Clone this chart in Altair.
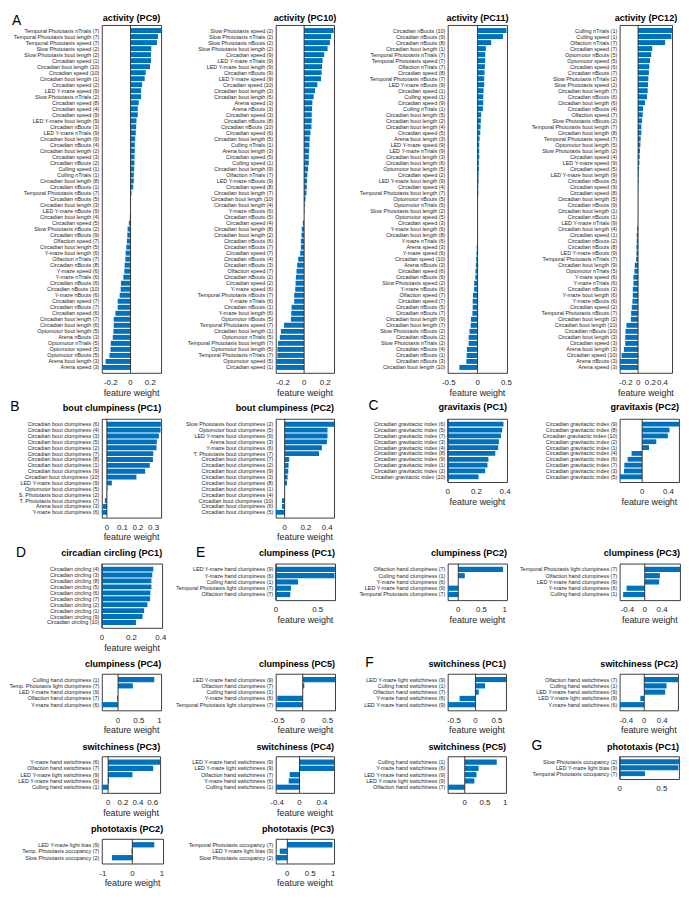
import altair as alt
import pandas as pd

FONT = "Liberation Sans"
BAR_COLOR = "#0072BD"
INK = "#262626"

# ---------------- activity (PC9) ----------------
PC9_LABELS = [
    "Temporal Phototaxis nTrials (7)", "Temporal Phototaxis bout length (7)", "Temporal Phototaxis speed (7)",
    "Slow Phototaxis speed (2)", "Slow Phototaxis bout length (2)", "Circadian speed (1)",
    "Circadian bout length (10)", "Circadian speed (10)", "Circadian bout length (1)", "Circadian speed (2)",
    "LED Y-maze speed (9)", "Slow Phototaxis nTrials (2)", "Circadian speed (8)", "Circadian speed (4)",
    "Circadian speed (9)", "LED Y-maze bout length (9)", "Circadian nBouts (3)", "LED Y-maze nTrials (9)",
    "Circadian bout length (9)", "Circadian nBouts (4)", "Circadian bout length (2)", "Circadian speed (3)",
    "Circadian nBouts (2)", "Culling speed (1)", "Culling nTrials (1)", "Circadian bout length (8)",
    "Circadian nBouts (1)", "Temporal Phototaxis nBouts (7)", "Circadian nBouts (5)", "Circadian bout length (3)",
    "LED Y-maze nBouts (9)", "Circadian bout length (4)", "Circadian speed (5)", "Slow Phototaxis nBouts (2)",
    "Circadian nBouts (9)", "Olfaction speed (7)", "Circadian bout length (5)", "Y-maze bout length (6)",
    "Olfaction nTrials (7)", "Circadian nBouts (8)", "Y-maze speed (6)", "Y-maze nTrials (6)",
    "Circadian nBouts (6)", "Circadian nBouts (10)", "Y-maze nBouts (6)", "Circadian speed (7)",
    "Circadian nBouts (7)", "Circadian speed (6)", "Circadian bout length (7)", "Circadian bout length (6)",
    "Optomotor bout length (5)", "Arena nBouts (3)", "Optomotor nTrials (5)", "Optomotor speed (5)",
    "Optomotor nBouts (5)", "Arena bout length (3)", "Arena speed (3)",
]
PC9_VALUES = [
    0.31, 0.277, 0.267, 0.21, 0.207, 0.207, 0.197, 0.153, 0.143, 0.117,
    0.107, 0.107, 0.083, 0.073, 0.073, 0.06, 0.057, 0.053, 0.047, 0.043,
    0.043, 0.04, 0.04, 0.037, 0.033, 0.033, 0.027, 0.01, 0.004, 0.002,
    -0.001, -0.007, -0.017, -0.03, -0.033, -0.037, -0.043, -0.05, -0.053, -0.06,
    -0.063, -0.073, -0.097, -0.1, -0.11, -0.13, -0.13, -0.153, -0.17, -0.17,
    -0.173, -0.18, -0.2, -0.203, -0.213, -0.253, -0.287,
]

# ---------------- activity (PC10) ----------------
PC10_LABELS = [
    "Slow Phototaxis speed (2)", "Slow Phototaxis nTrials (2)", "Slow Phototaxis nBouts (2)",
    "Slow Phototaxis bout length (2)", "Circadian speed (9)", "LED Y-maze nTrials (9)",
    "LED Y-maze bout length (9)", "Circadian nBouts (9)", "LED Y-maze speed (9)", "Circadian speed (10)",
    "Circadian bout length (3)", "Circadian bout length (6)", "Arena speed (3)", "Arena nBouts (3)",
    "Circadian speed (3)", "Circadian nBouts (8)", "Circadian nBouts (10)", "Circadian speed (6)",
    "Circadian bout length (5)", "Culling nTrials (1)", "Arena bout length (3)", "Circadian speed (5)",
    "Culling speed (1)", "Circadian bout length (9)", "Olfaction nTrials (7)", "LED Y-maze nBouts (9)",
    "Circadian speed (8)", "Circadian bout length (7)", "Circadian bout length (10)", "Circadian bout length (4)",
    "Y-maze nBouts (6)", "Circadian nBouts (5)", "Circadian speed (4)", "Circadian bout length (8)",
    "Circadian bout length (2)", "Circadian nBouts (6)", "Circadian nBouts (7)", "Circadian speed (7)",
    "Circadian nBouts (4)", "Circadian nBouts (3)", "Olfaction speed (7)", "Circadian nBouts (2)",
    "Circadian speed (2)", "Y-maze speed (6)", "Temporal Phototaxis nBouts (7)", "Y-maze nTrials (6)",
    "Circadian nBouts (1)", "Y-maze bout length (6)", "Optomotor nBouts (5)", "Temporal Phototaxis speed (7)",
    "Circadian bout length (1)", "Optomotor nTrials (5)", "Temporal Phototaxis bout length (7)",
    "Optomotor bout length (5)", "Temporal Phototaxis nTrials (7)", "Optomotor speed (5)", "Circadian speed (1)",
]
PC10_VALUES = [
    0.28, 0.256, 0.244, 0.222, 0.19, 0.175, 0.169, 0.166, 0.16, 0.125,
    0.103, 0.09, 0.078, 0.075, 0.072, 0.072, 0.069, 0.06, 0.053, 0.05,
    0.047, 0.044, 0.044, 0.038, 0.031, 0.028, 0.025, 0.022, 0.013, 0.006,
    0.004, 0.001, -0.012, -0.022, -0.025, -0.031, -0.031, -0.037, -0.056, -0.066,
    -0.072, -0.078, -0.081, -0.084, -0.094, -0.094, -0.119, -0.122, -0.125, -0.19,
    -0.22, -0.23, -0.247, -0.253, -0.253, -0.266, -0.266,
]

# ---------------- activity (PC11) ----------------
PC11_LABELS = [
    "Circadian nBouts (10)", "Circadian nBouts (9)", "Circadian nBouts (8)", "Circadian bout length (1)",
    "Temporal Phototaxis nTrials (7)", "Temporal Phototaxis speed (7)", "Olfaction nTrials (7)",
    "Circadian speed (8)", "Temporal Phototaxis nBouts (7)", "LED Y-maze nBouts (9)", "Circadian speed (1)",
    "Culling speed (1)", "Circadian speed (9)", "Culling nTrials (1)", "Circadian bout length (5)",
    "Circadian bout length (2)", "Circadian bout length (4)", "Circadian speed (5)", "Arena bout length (3)",
    "LED Y-maze speed (9)", "LED Y-maze nTrials (9)", "Circadian bout length (3)", "Circadian bout length (6)",
    "Optomotor bout length (5)", "Circadian speed (2)", "LED Y-maze bout length (9)", "Circadian speed (4)",
    "Temporal Phototaxis bout length (7)", "Optomotor nBouts (5)", "Optomotor nTrials (5)",
    "Slow Phototaxis bout length (2)", "Optomotor speed (5)", "Circadian speed (3)", "Y-maze bout length (6)",
    "Circadian bout length (8)", "Y-maze nTrials (6)", "Arena speed (3)", "Y-maze speed (6)",
    "Circadian speed (10)", "Arena nBouts (3)", "Circadian speed (6)", "Circadian nBouts (6)",
    "Slow Phototaxis speed (2)", "Y-maze nBouts (6)", "Olfaction speed (7)", "Circadian speed (7)",
    "Circadian nBouts (5)", "Circadian nBouts (7)", "Circadian bout length (9)", "Circadian bout length (7)",
    "Slow Phototaxis nBouts (2)", "Circadian nBouts (2)", "Slow Phototaxis nTrials (2)", "Circadian nBouts (4)",
    "Circadian nBouts (1)", "Circadian nBouts (3)", "Circadian bout length (10)",
]
PC11_VALUES = [
    0.50, 0.44, 0.236, 0.144, 0.132, 0.132, 0.126, 0.12, 0.115, 0.115,
    0.103, 0.098, 0.098, 0.092, 0.063, 0.057, 0.052, 0.046, 0.034, 0.029,
    0.029, 0.029, 0.023, 0.023, 0.017, 0.017, 0.012, 0.012, 0.006, 0.005,
    0.003, 0.002, 0.001, -0.002, -0.004, -0.008, -0.015, -0.02, -0.025, -0.03,
    -0.036, -0.04, -0.06, -0.06, -0.08, -0.085, -0.085, -0.09, -0.115, -0.12,
    -0.14, -0.155, -0.155, -0.185, -0.19, -0.195, -0.316,
]

# ---------------- activity (PC12) ----------------
PC12_LABELS = [
    "Culling nTrials (1)", "Culling speed (1)", "Olfaction nTrials (7)", "Circadian speed (7)",
    "Optomotor nBouts (5)", "Optomotor speed (5)", "Circadian speed (6)", "Circadian nBouts (7)",
    "Slow Phototaxis nTrials (2)", "Slow Phototaxis speed (2)", "Circadian bout length (7)",
    "Circadian nBouts (6)", "Circadian bout length (6)", "Circadian nBouts (4)", "Olfaction speed (7)",
    "Slow Phototaxis nBouts (2)", "Temporal Phototaxis bout length (7)", "Circadian bout length (8)",
    "Temporal Phototaxis speed (7)", "Optomotor bout length (5)", "Slow Phototaxis bout length (2)",
    "Circadian speed (4)", "LED Y-maze speed (9)", "Circadian speed (5)", "LED Y-maze bout length (9)",
    "Circadian nBouts (5)", "Circadian speed (9)", "Circadian speed (8)", "Circadian bout length (5)",
    "Circadian nBouts (9)", "Circadian bout length (1)", "Circadian nBouts (1)", "LED Y-maze nTrials (9)",
    "Circadian bout length (4)", "Circadian speed (1)", "Circadian nBouts (2)", "Circadian nBouts (8)",
    "LED Y-maze nBouts (9)", "Temporal Phototaxis nTrials (7)", "Circadian bout length (9)",
    "Optomotor nTrials (5)", "Y-maze speed (6)", "Y-maze nTrials (6)", "Circadian nBouts (3)",
    "Y-maze bout length (6)", "Y-maze nBouts (6)", "Circadian speed (2)", "Temporal Phototaxis nBouts (7)",
    "Circadian bout length (2)", "Circadian bout length (10)", "Circadian nBouts (10)",
    "Circadian bout length (3)", "Circadian speed (3)", "Arena bout length (3)", "Circadian speed (10)",
    "Arena nBouts (3)", "Arena speed (3)",
]
PC12_VALUES = [
    0.557, 0.546, 0.443, 0.232, 0.216, 0.195, 0.184, 0.178, 0.168, 0.162,
    0.157, 0.146, 0.114, 0.081, 0.076, 0.065, 0.054, 0.054, 0.043, 0.038,
    0.032, 0.027, 0.022, 0.016, 0.011, 0.009, 0.006, 0.004, 0.002, 0.001,
    -0.001, -0.002, -0.004, -0.016, -0.022, -0.022, -0.027, -0.027, -0.032, -0.054,
    -0.06, -0.076, -0.076, -0.086, -0.086, -0.092, -0.103, -0.114, -0.119, -0.19,
    -0.205, -0.21, -0.21, -0.232, -0.27, -0.297, -0.297,
]

# ---------------- bout clumpiness ----------------
BC1_LABELS = [
    "Circadian bout clumpiness (6)", "Circadian bout clumpiness (4)", "Circadian bout clumpiness (3)",
    "Circadian bout clumpiness (5)", "Circadian bout clumpiness (2)", "Circadian bout clumpiness (7)",
    "Circadian bout clumpiness (8)", "Circadian bout clumpiness (1)", "Circadian bout clumpiness (9)",
    "Circadian bout clumpiness (10)", "LED Y-maze bout clumpiness (9)", "Optomotor bout clumpiness (5)",
    "S. Phototaxis bout clumpiness (2)", "T. Phototaxis bout clumpiness (7)", "Arena bout clumpiness (3)",
    "Y-maze bout clumpiness (6)",
]
BC1_VALUES = [0.347, 0.345, 0.334, 0.321, 0.319, 0.298, 0.296, 0.276, 0.246, 0.19,
              0.032, 0.004, -0.002, -0.013, -0.026, -0.032]

BC2_LABELS = [
    "Slow Phototaxis bout clumpiness (2)", "Optomotor bout clumpiness (5)", "LED Y-maze bout clumpiness (9)",
    "Arena bout clumpiness (3)", "Y-maze bout clumpiness (6)", "T. Phototaxis bout clumpiness (7)",
    "Circadian bout clumpiness (7)", "Circadian bout clumpiness (2)", "Circadian bout clumpiness (9)",
    "Circadian bout clumpiness (3)", "Circadian bout clumpiness (8)", "Circadian bout clumpiness (1)",
    "Circadian bout clumpiness (4)", "Circadian bout clumpiness (10)", "Circadian bout clumpiness (6)",
    "Circadian bout clumpiness (5)",
]
BC2_VALUES = [0.465, 0.403, 0.403, 0.397, 0.35, 0.323, 0.043, 0.037, 0.034, 0.028,
              0.022, 0.002, -0.001, -0.025, -0.025, -0.083]

# ---------------- gravitaxis ----------------
GR1_LABELS = ["Circadian gravitactic index (%d)" % i for i in [6, 5, 7, 3, 4, 8, 9, 1, 2, 10]]
GR1_VALUES = [0.389, 0.380, 0.371, 0.357, 0.352, 0.332, 0.284, 0.277, 0.261, 0.215]

GR2_LABELS = ["Circadian gravitactic index (%d)" % i for i in [9, 8, 10, 2, 1, 4, 6, 7, 3, 5]]
GR2_VALUES = [0.56, 0.415, 0.39, 0.215, 0.105, -0.16, -0.22, -0.27, -0.275, -0.34]

# ---------------- circadian circling ----------------
CC1_LABELS = ["Circadian circling (%d)" % i for i in [4, 3, 8, 5, 6, 7, 2, 1, 9, 10]]
CC1_VALUES = [0.349, 0.342, 0.336, 0.336, 0.329, 0.327, 0.309, 0.287, 0.276, 0.231]

# ---------------- clumpiness ----------------
CL1_LABELS = ["LED Y-maze hand clumpiness (9)", "Y-maze hand clumpiness (6)", "Culling hand clumpiness (1)",
              "Temporal Phototaxis light clumpiness (7)", "Olfaction hand clumpiness (7)"]
CL1_VALUES = [0.707, 0.70, 0.266, 0.18, 0.172]

CL2_LABELS = ["Olfaction hand clumpiness (7)", "Culling hand clumpiness (1)", "Y-maze hand clumpiness (6)",
              "LED Y-maze hand clumpiness (9)", "Temporal Phototaxis clumpiness (7)"]
CL2_VALUES = [0.965, 0.141, 0.002, -0.222, -0.225]

CL3_LABELS = ["Temporal Phototaxis light clumpiness (7)", "Olfaction hand clumpiness (7)",
              "LED Y-maze hand clumpiness (9)", "Y-maze hand clumpiness (6)", "Culling hand clumpiness (1)"]
CL3_VALUES = [0.815, 0.35, 0.333, -0.42, -0.5]

CL4_LABELS = ["Culling hand clumpiness (1)", "Temp. Phototaxis light clumpiness (7)",
              "LED Y-maze hand clumpiness (9)", "Olfaction hand clumpiness (7)", "Y-maze hand clumpiness (6)"]
CL4_VALUES = [0.873, 0.357, 0.003, -0.024, -0.39]

CL5_LABELS = ["LED Y-maze hand clumpiness (9)", "Olfaction hand clumpiness (7)", "Culling hand clumpiness (1)",
              "Y-maze hand clumpiness (6)", "Temporal Phototaxis light clumpiness (7)"]
CL5_VALUES = [0.65, 0.032, 0.001, -0.51, -0.54]

# ---------------- switchiness ----------------
SW1_LABELS = ["LED Y-maze light switchiness (9)", "Culling hand switchiness (1)", "Olfaction hand switchiness (7)",
              "Y-maze hand switchiness (6)", "LED Y-maze hand switchiness (9)"]
SW1_VALUES = [0.715, 0.223, 0.077, -0.37, -0.646]

SW2_LABELS = ["Olfaction hand switchiness (7)", "Culling hand switchiness (1)", "LED Y-maze hand switchiness (9)",
              "LED Y-maze light switchiness (9)", "Y-maze hand switchiness (6)"]
SW2_VALUES = [0.75, 0.495, 0.465, -0.087, -0.545]

SW3_LABELS = ["Y-maze hand switchiness (6)", "Olfaction hand switchiness (7)", "LED Y-maze light switchiness (9)",
              "LED Y-maze hand switchiness (9)", "Culling hand switchiness (1)"]
SW3_VALUES = [0.70, 0.606, 0.327, 0.013, -0.084]

SW4_LABELS = ["LED Y-maze hand switchiness (9)", "LED Y-maze light switchiness (9)", "Olfaction hand switchiness (7)",
              "Y-maze hand switchiness (6)", "Culling hand switchiness (1)"]
SW4_VALUES = [0.618, 0.615, -0.176, -0.194, -0.424]

SW5_LABELS = ["Culling hand switchiness (1)", "Y-maze hand switchiness (6)", "LED Y-maze hand switchiness (9)",
              "LED Y-maze light switchiness (9)", "Olfaction hand switchiness (7)"]
SW5_VALUES = [0.79, 0.34, 0.29, 0.236, -0.42]

# ---------------- phototaxis ----------------
PH1_LABELS = ["Slow Phototaxis occupancy (2)", "LED Y-maze light bias (9)", "Temporal Phototaxis occupancy (7)"]
PH1_VALUES = [0.705, 0.697, 0.30]

PH2_LABELS = ["LED Y-maze light bias (9)", "Temp. Phototaxis occupancy (7)", "Slow Phototaxis occupancy (2)"]
PH2_VALUES = [0.74, -0.03, -0.69]

PH3_LABELS = ["Temporal Phototaxis occupancy (7)", "LED Y-maze light bias (9)", "Slow Phototaxis occupancy (2)"]
PH3_VALUES = [0.985, -0.164, -0.25]

# panel specs in grid order (4 columns); ty = title baseline above the plot box
PANELS = [
    dict(title="activity (PC9)", labels=PC9_LABELS, values=PC9_VALUES, domain=[-0.29, 0.31],
         ticks=[-0.2, 0, 0.2], w=60, h=352, ty=-4.5, center=True, letter="A", lx=-91, ly=0),
    dict(title="activity (PC10)", labels=PC10_LABELS, values=PC10_VALUES, domain=[-0.268, 0.284],
         ticks=[-0.2, 0, 0.2], w=59, h=352, ty=-4.5, center=True),
    dict(title="activity (PC11)", labels=PC11_LABELS, values=PC11_VALUES, domain=[-0.517, 0.511],
         ticks=[-0.5, 0, 0.5], w=60, h=352, ty=-4.5, center=True),
    dict(title="activity (PC12)", labels=PC12_LABELS, values=PC12_VALUES, domain=[-0.30, 0.557],
         ticks=[-0.2, 0, 0.2, 0.4], w=53, h=352, ty=-4.5, center=True),

    dict(title="bout clumpiness (PC1)", labels=BC1_LABELS, values=BC1_VALUES, domain=[-0.032, 0.349],
         ticks=[0, 0.1, 0.2, 0.3], w=60, h=100, ty=-7.5, letter="B", lx=-92.7, ly=-8),
    dict(title="bout clumpiness (PC2)", labels=BC2_LABELS, values=BC2_VALUES, domain=[-0.083, 0.465],
         ticks=[0, 0.2, 0.4], w=59, h=100, ty=-7.5),
    dict(title="gravitaxis (PC1)", labels=GR1_LABELS, values=GR1_VALUES, domain=[0, 0.414],
         ticks=[0, 0.2, 0.4], w=60, h=64, ty=-8.5, letter="C", lx=-80.3, ly=-9.3),
    dict(title="gravitaxis (PC2)", labels=GR2_LABELS, values=GR2_VALUES, domain=[-0.34, 0.56],
         ticks=[0, 0.4], w=60, h=64, ty=-8.5),

    dict(title="circadian circling (PC1)", labels=CC1_LABELS, values=CC1_VALUES, domain=[0, 0.409],
         ticks=[0, 0.2, 0.4], w=61, h=65, ty=-7.5, letter="D", lx=-87, ly=-7),
    dict(title="clumpiness (PC1)", labels=CL1_LABELS, values=CL1_VALUES, domain=[0, 0.707],
         ticks=[0, 0.5], w=60, h=37, ty=-7.5, letter="E", lx=-80.7, ly=-7),
    dict(title="clumpiness (PC2)", labels=CL2_LABELS, values=CL2_VALUES, domain=[-0.225, 1.05],
         ticks=[0, 0.5, 1], w=60, h=37, ty=-7.5),
    dict(title="clumpiness (PC3)", labels=CL3_LABELS, values=CL3_VALUES, domain=[-0.578, 0.815],
         ticks=[-0.4, 0, 0.4], w=61, h=37, ty=-7.5),

    dict(title="clumpiness (PC4)", labels=CL4_LABELS, values=CL4_VALUES, domain=[-0.39, 1.04],
         ticks=[0, 0.5, 1], w=60, h=37, ty=-6.7),
    dict(title="clumpiness (PC5)", labels=CL5_LABELS, values=CL5_VALUES, domain=[-0.54, 0.65],
         ticks=[-0.5, 0, 0.5], w=60, h=37, ty=-6.7),
    dict(title="switchiness (PC1)", labels=SW1_LABELS, values=SW1_VALUES, domain=[-0.646, 0.715],
         ticks=[-0.5, 0, 0.5], w=59, h=37, ty=-6.7, letter="F", lx=-83.6, ly=-6.7),
    dict(title="switchiness (PC2)", labels=SW2_LABELS, values=SW2_VALUES, domain=[-0.545, 0.75],
         ticks=[-0.4, 0, 0.4], w=59, h=37, ty=-6.7),

    dict(title="switchiness (PC3)", labels=SW3_LABELS, values=SW3_VALUES, domain=[-0.084, 0.70],
         ticks=[0, 0.2, 0.4, 0.6], w=59, h=37, ty=-6.5),
    dict(title="switchiness (PC4)", labels=SW4_LABELS, values=SW4_VALUES, domain=[-0.424, 0.618],
         ticks=[-0.4, 0, 0.4], w=59, h=37, ty=-6.5),
    dict(title="switchiness (PC5)", labels=SW5_LABELS, values=SW5_VALUES, domain=[-0.42, 1.02],
         ticks=[0, 0.5, 1], w=59, h=37, ty=-6.5, notitle=True),
    dict(title="phototaxis (PC1)", labels=PH1_LABELS, values=PH1_VALUES, domain=[0, 0.705],
         ticks=[0, 0.5], w=60, h=23, ty=-6.5, notitle=True, letter="G", lx=-89.3, ly=-6.7),

    dict(title="phototaxis (PC2)", labels=PH2_LABELS, values=PH2_VALUES, domain=[-1.03, 1.04],
         ticks=[-1, 0, 1], w=62, h=25, ty=-7),
    dict(title="phototaxis (PC3)", labels=PH3_LABELS, values=PH3_VALUES, domain=[-0.25, 1.02],
         ticks=[0, 0.5, 1], w=59, h=25, ty=-7),
]


def make_panel(p):
    df = pd.DataFrame({"feature": p["labels"], "weight": p["values"]})
    xscale = alt.Scale(domain=p["domain"], nice=False, zero=False)
    bars = alt.Chart(df).mark_bar(color=BAR_COLOR).encode(
        x=alt.X("weight:Q", scale=xscale, axis=alt.Axis(labels=False, title=None)),
        x2=alt.datum(0),
        y=alt.Y("feature:N", sort=None,
                scale=alt.Scale(paddingInner=0.18, paddingOuter=0.5),
                axis=alt.Axis(title=None, labelOverlap=False)),
    )
    zero = alt.Chart(pd.DataFrame({"z": [0]})).mark_rule(color=INK, strokeWidth=0.9).encode(
        x=alt.datum(0)
    )
    # tick labels, placed through the panel's x scale
    tick_df = pd.DataFrame({"v": p["ticks"], "s": ["%g" % v for v in p["ticks"]]})
    tick_text = alt.Chart(tick_df).mark_text(
        baseline="alphabetic", fontSize=8, font=FONT, color=INK
    ).encode(
        x=alt.X("v:Q", scale=xscale, axis=None),
        y=alt.value(p["h"] + 12.3),
        text="s:N",
    )
    if p.get("center"):
        title = alt.Chart(pd.DataFrame({"t": [p["title"]]})).mark_text(
            align="center", baseline="alphabetic", fontSize=9.2, fontWeight="bold", font=FONT, color="black"
        ).encode(x=alt.value(p["w"] / 2), y=alt.value(p["ty"]), text="t:N")
    else:
        title = alt.Chart(pd.DataFrame({"t": [p["title"]]})).mark_text(
            align="right", baseline="alphabetic", fontSize=9.2, fontWeight="bold", font=FONT, color="black"
        ).encode(x=alt.value(p["w"]), y=alt.value(p["ty"]), text="t:N")
    layers = [bars, zero, tick_text, title]
    if not p.get("notitle"):
        xtitle = alt.Chart(pd.DataFrame({"t": ["feature weight"]})).mark_text(
            align="center", baseline="alphabetic", fontSize=9, font=FONT, color=INK
        ).encode(x=alt.value(p["w"] / 2), y=alt.value(p["h"] + 23), text="t:N")
        layers.append(xtitle)
    if p.get("letter"):
        letter = alt.Chart(pd.DataFrame({"t": [p["letter"]]})).mark_text(
            align="left", baseline="alphabetic", fontSize=14, font=FONT, color="black"
        ).encode(x=alt.value(p["lx"]), y=alt.value(p["ly"]), text="t:N")
        layers.append(letter)
    return alt.layer(*layers).properties(width=p["w"], height=p["h"])


chart = alt.concat(
    *[make_panel(p) for p in PANELS],
    columns=4,
    spacing={"row": 46.5, "column": 114},
    align="each",
    bounds="flush",
).properties(
    padding={"left": 0, "right": 0, "top": 0, "bottom": 0}
).configure(
    font=FONT
).configure_view(
    stroke=INK, strokeWidth=0.9
).configure_axisX(
    titleFont=FONT, titleFontSize=9, titleFontWeight="normal", titleColor=INK, titlePadding=15.5,
    ticks=False, domain=False, grid=False
).configure_axisY(
    labelFont=FONT, labelFontSize=5.5, labelColor=INK, labelPadding=3, labelLimit=300,
    ticks=False, domain=False, grid=False
)

chart.save("out.html", embed_options={"renderer": "svg", "actions": False})
